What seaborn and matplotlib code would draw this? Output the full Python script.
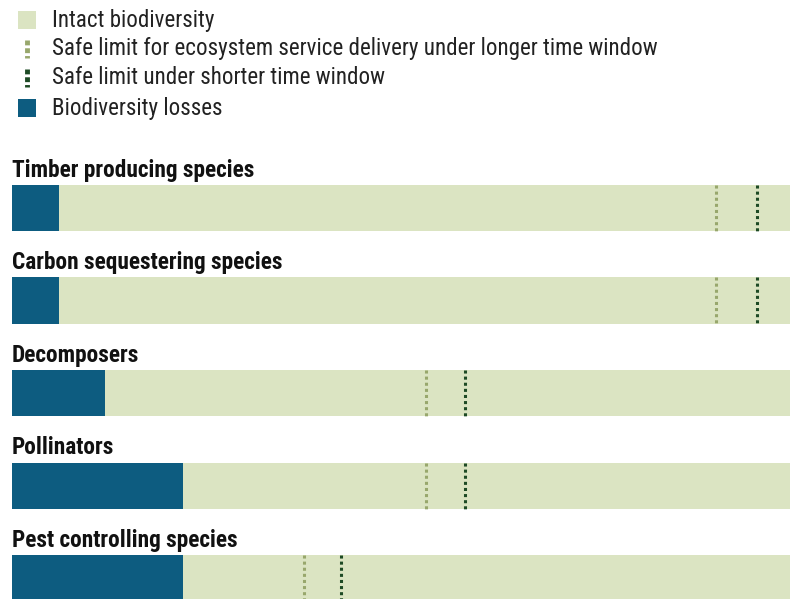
import numpy as np
import pandas as pd
import matplotlib
matplotlib.use('Agg')
import matplotlib.pyplot as plt
from matplotlib.patches import Rectangle
import seaborn as sns

# data (share of biodiversity, 0-100)
groups = ['Timber producing species', 'Carbon sequestering species',
          'Decomposers', 'Pollinators', 'Pest controlling species']
intact = [100, 100, 100, 100, 100]
losses = [6, 6, 12, 22, 22]
safe_long = [90.5, 90.5, 53.2, 53.2, 37.5]
safe_short = [95.8, 95.8, 58.2, 58.2, 42.3]

legend_labels = ['Intact biodiversity',
                 'Safe limit for ecosystem service delivery under longer time window',
                 'Safe limit under shorter time window',
                 'Biodiversity losses']

c_intact = '#dbe4c2'
c_loss = '#0d5c80'
c_long = '#98a76c'
c_short = '#1d4a24'

sns.set_theme(style='white')
plt.rcParams['font.family'] = ['Liberation Sans Narrow', 'Roboto Condensed', 'DejaVu Sans']

W, H = 790, 599
fig = plt.figure(figsize=(W / 100, H / 100), dpi=100)

df = pd.DataFrame({'group': groups, 'intact': intact, 'loss': losses,
                   'long': safe_long, 'short': safe_short})

# main panel: x 0-100 over pixels 12..790, rows every ~92.6 px starting at 208
ax = fig.add_axes([12 / W, 0, 778 / W, 1])
sns.barplot(data=df, x='intact', y='group', orient='h', color=c_intact,
            width=0.5, saturation=1, linewidth=0, ax=ax)
sns.barplot(data=df, x='loss', y='group', orient='h', color=c_loss,
            width=0.5, saturation=1, linewidth=0, ax=ax)
pitch = 92.6
top_px = 208
ax.set_ylim((H - top_px) / pitch, -top_px / pitch)
ax.set_xlim(0, 100)
rows = np.arange(len(groups))
ax.vlines(df['long'], rows - 0.25, rows + 0.25, colors=c_long,
          linewidth=2.2, linestyles=(0, (1, 1)))
ax.vlines(df['short'], rows - 0.25, rows + 0.25, colors=c_short,
          linewidth=2.2, linestyles=(0, (1, 1)))
for i, g in enumerate(groups):
    ax.text(0, i - 0.34, g, fontsize=16.8, fontweight='semibold', color='#111111',
            va='baseline', ha='left')
ax.axis('off')

# legend, drawn in pixel units
lg = fig.add_axes([0, 1 - 130 / H, 1, 130 / H])
lg.set_xlim(0, W)
lg.set_ylim(130, 0)
lg.axis('off')
row_y = [20, 49, 78, 108]
lg.add_patch(Rectangle((18, row_y[0] - 9), 18, 18, color=c_intact, lw=0))
lg.vlines(27, row_y[1] - 9, row_y[1] + 9, colors=c_long, linewidth=3.5,
          linestyles=(0, (1, 0.6)))
lg.vlines(27, row_y[2] - 9, row_y[2] + 9, colors=c_short, linewidth=3.5,
          linestyles=(0, (1, 0.6)))
lg.add_patch(Rectangle((18, row_y[3] - 9), 18, 18, color=c_loss, lw=0))
for y, lab in zip(row_y, legend_labels):
    lg.text(52, y, lab, fontsize=16.6, color='#222222', va='center', ha='left')

fig.savefig('out.png', dpi=100)
